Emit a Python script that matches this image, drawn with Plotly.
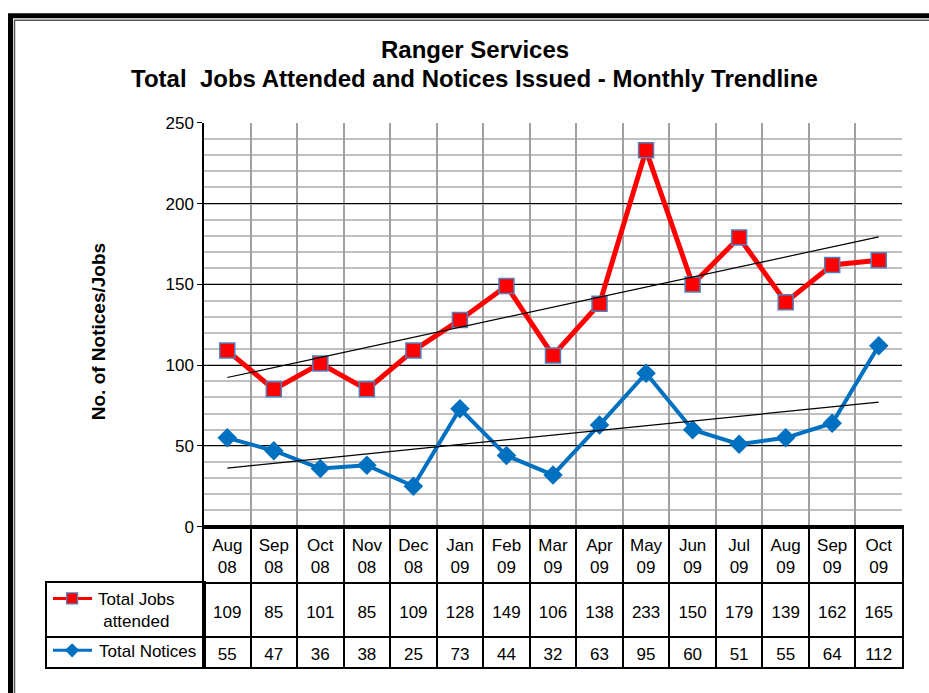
import numpy as np
import plotly.graph_objects as go

# ---------------- data ----------------
months = ["Aug<br>08", "Sep<br>08", "Oct<br>08", "Nov<br>08", "Dec<br>08", "Jan<br>09", "Feb<br>09",
          "Mar<br>09", "Apr<br>09", "May<br>09", "Jun<br>09", "Jul<br>09", "Aug<br>09", "Sep<br>09", "Oct<br>09"]
jobs = [109, 85, 101, 85, 109, 128, 149, 106, 138, 233, 150, 179, 139, 162, 165]
notices = [55, 47, 36, 38, 25, 73, 44, 32, 63, 95, 60, 51, 55, 64, 112]
series_names = ["Total Jobs<br>attended", "Total Notices"]
title_lines = ["Ranger Services", "Total  Jobs Attended and Notices Issued - Monthly Trendline"]
y_title = "No. of Notices/Jobs"
y_ticks = [0, 50, 100, 150, 200, 250]

# ---------------- helpers ----------------
W, H = 929, 693
def px(x):
    return x / W
def py(y):
    # convert a target pixel row into paper coordinates (compensates the capture's vertical fit)
    return 1 - ((y - 7.8) / 0.9755) / H

FONT = "Arial, Liberation Sans, sans-serif"
RED = "#FF0000"
BLUE = "#0070C0"
n = len(months)
xs = list(range(n))
bounds = [i - 0.5 for i in range(n + 1)]

fig = go.Figure()

# main series
fig.add_trace(go.Scatter(x=xs, y=jobs, mode="lines+markers", name=series_names[0],
                         line=dict(color=RED, width=5),
                         marker=dict(symbol="square", size=15, color=RED,
                                     line=dict(color="#4F81BD", width=1.5)),
                         xaxis="x", yaxis="y", showlegend=False))
fig.add_trace(go.Scatter(x=xs, y=notices, mode="lines+markers", name=series_names[1],
                         line=dict(color=BLUE, width=4),
                         marker=dict(symbol="diamond", size=15, color=BLUE),
                         xaxis="x", yaxis="y", showlegend=False))

# linear trendlines
for vals in (jobs, notices):
    m, c = np.polyfit(xs, vals, 1)
    fig.add_trace(go.Scatter(x=[xs[0], xs[-1]], y=[m * xs[0] + c, m * xs[-1] + c], mode="lines",
                             line=dict(color="black", width=1.2), xaxis="x", yaxis="y",
                             showlegend=False, hoverinfo="skip"))

# table: header / values rows (y2 in pixel-like row units, 0 = top of table)
HDR, R1, R2 = 57, 111, 141
TXT = 3  # visual centring nudge for text
fig.add_trace(go.Scatter(x=xs, y=[HDR / 2 + TXT] * n, mode="text", text=months,
                         textfont=dict(size=17, color="black", family=FONT),
                         xaxis="x2", yaxis="y2", showlegend=False, hoverinfo="skip"))
fig.add_trace(go.Scatter(x=xs, y=[(HDR + R1) / 2 + TXT] * n, mode="text", text=[str(v) for v in jobs],
                         textfont=dict(size=17, color="black", family=FONT),
                         xaxis="x2", yaxis="y2", showlegend=False, hoverinfo="skip"))
fig.add_trace(go.Scatter(x=xs, y=[(R1 + R2) / 2 + TXT] * n, mode="text", text=[str(v) for v in notices],
                         textfont=dict(size=17, color="black", family=FONT),
                         xaxis="x2", yaxis="y2", showlegend=False, hoverinfo="skip"))

# label column legend keys (x3/y3)
fig.add_trace(go.Scatter(x=[0.038, 0.16, 0.287], y=[15, 15, 15], mode="lines",
                         line=dict(color=RED, width=3), xaxis="x3", yaxis="y3",
                         showlegend=False, hoverinfo="skip"))
fig.add_trace(go.Scatter(x=[0.16], y=[15], mode="markers",
                         marker=dict(symbol="square", size=11, color=RED,
                                     line=dict(color="#4F81BD", width=1.2)),
                         xaxis="x3", yaxis="y3", showlegend=False, hoverinfo="skip"))
fig.add_trace(go.Scatter(x=[0.038, 0.16, 0.287], y=[67, 67, 67], mode="lines",
                         line=dict(color=BLUE, width=3), xaxis="x3", yaxis="y3",
                         showlegend=False, hoverinfo="skip"))
fig.add_trace(go.Scatter(x=[0.16], y=[67], mode="markers",
                         marker=dict(symbol="diamond", size=11, color=BLUE),
                         xaxis="x3", yaxis="y3", showlegend=False, hoverinfo="skip"))

annotations = [
    dict(text="<b>%s</b>" % title_lines[0], x=px(475), y=py(48), xref="paper", yref="paper",
         showarrow=False, font=dict(size=24, family=FONT, color="black"), xanchor="center", yanchor="middle"),
    dict(text="<b>%s</b>" % title_lines[1], x=px(475), y=py(78), xref="paper", yref="paper",
         showarrow=False, font=dict(size=24, family=FONT, color="black"), xanchor="center", yanchor="middle"),
    dict(text="<b>%s</b>" % y_title, x=px(98), y=py(332), xref="paper", yref="paper", textangle=-90,
         showarrow=False, font=dict(size=19, family=FONT, color="black"), xanchor="center", yanchor="middle"),
    dict(text=series_names[0], x=0.573, y=27, xref="x3", yref="y3", showarrow=False,
         font=dict(size=17, family=FONT, color="black"), xanchor="center", yanchor="middle"),
    dict(text=series_names[1], x=0.643, y=68, xref="x3", yref="y3", showarrow=False,
         font=dict(size=17, family=FONT, color="black"), xanchor="center", yanchor="middle"),
]

shapes = [
    dict(type="rect", xref="paper", yref="paper", x0=px(10.5), x1=px(960), y0=py(14.5), y1=py(740),
         line=dict(color="black", width=5)),
    dict(type="rect", xref="paper", yref="paper", x0=px(14.5), x1=px(960), y0=py(19), y1=py(740),
         line=dict(color="#555555", width=1.5)),
]

fig.update_layout(
    width=W, height=H, autosize=False,
    margin=dict(l=0, r=0, t=0, b=0),
    paper_bgcolor="white", plot_bgcolor="white",
    font=dict(family=FONT, color="black", size=17),
    annotations=annotations, shapes=shapes,
    xaxis=dict(domain=[px(204), px(902)], range=[-0.5, n - 0.5], anchor="y",
               tickmode="array", tickvals=bounds, showticklabels=False, ticks="",
               showgrid=True, gridcolor="#A0A0A0", gridwidth=1.5,
               showline=True, linecolor="black", linewidth=2, zeroline=False),
    yaxis=dict(domain=[py(527), py(122)], range=[0, 250], anchor="x",
               tickmode="array", tickvals=y_ticks, ticks="outside", ticklen=5, tickcolor="black",
               showgrid=True, gridcolor="black", gridwidth=1,
               minor=dict(dtick=10, showgrid=True, gridcolor="#C0C0C0", gridwidth=1.5, ticks=""),
               showline=True, linecolor="black", linewidth=1.5, zeroline=False,
               tickfont=dict(size=17, family=FONT, color="black")),
    xaxis2=dict(domain=[px(204), px(902)], range=[-0.5, n - 0.5], anchor="y2",
                tickmode="array", tickvals=bounds, showticklabels=False, ticks="",
                showgrid=True, gridcolor="black", gridwidth=1.5,
                showline=True, linecolor="black", linewidth=1.5, mirror=True, zeroline=False),
    yaxis2=dict(domain=[py(668), py(527)], range=[R2, 0], anchor="x2",
                tickmode="array", tickvals=[HDR, R1], showticklabels=False, ticks="",
                showgrid=True, gridcolor="black", gridwidth=1.5,
                showline=True, linecolor="black", linewidth=1.5, mirror=True, zeroline=False),
    xaxis3=dict(domain=[px(47), px(204)], range=[0, 1], anchor="y3",
                showticklabels=False, ticks="", showgrid=False,
                showline=True, linecolor="black", linewidth=1.5, mirror=True, zeroline=False),
    yaxis3=dict(domain=[py(668), py(584)], range=[84, 0], anchor="x3",
                tickmode="array", tickvals=[54], showticklabels=False, ticks="",
                showgrid=True, gridcolor="black", gridwidth=1.5,
                showline=True, linecolor="black", linewidth=1.5, mirror=True, zeroline=False),
)

post = ("document.documentElement.style.margin='0';document.documentElement.style.padding='0';"
        "document.body.style.margin='0';document.body.style.padding='0';document.body.style.overflow='hidden';"
        "var gdiv=document.getElementsByClassName('plotly-graph-div')[0];"
        "gdiv.style.position='fixed';gdiv.style.top='0px';gdiv.style.left='0px';")
fig.write_html("out.html", config=dict(displayModeBar=False), post_script=post)
